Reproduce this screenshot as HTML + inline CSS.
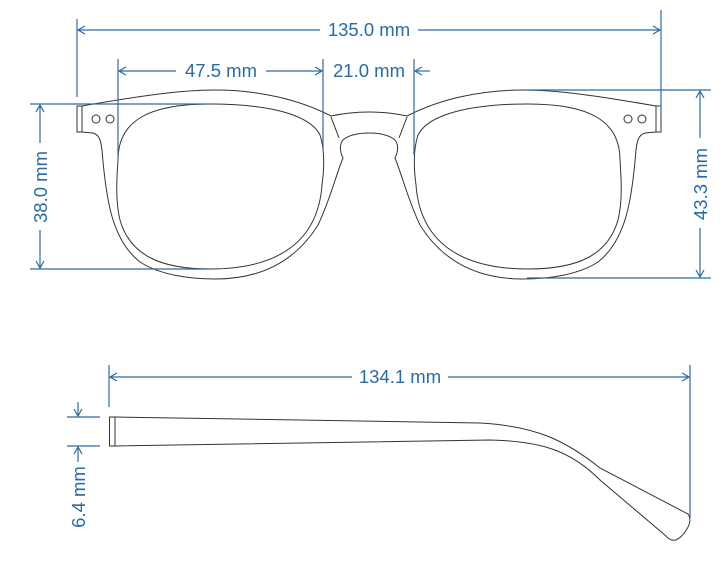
<!DOCTYPE html>
<html><head><style>body{margin:0;background:#fff}svg{display:block}</style></head><body>
<svg width="728" height="565" viewBox="0 0 728 565" xmlns="http://www.w3.org/2000/svg">
<defs>
<marker id="a" markerWidth="10" markerHeight="10" refX="9" refY="5" orient="auto" markerUnits="userSpaceOnUse"><path d="M2,1 L9,5 L2,9" fill="none" stroke="#2a6aa6" stroke-width="1.2"/></marker>
<g id="half" fill="none" stroke="#333" stroke-width="1">
<path d="M82,106 C140,96 180,90 215,90 C260,90 300,100 331,116 C345,113 360,112 369,112"/>
<path d="M82,132 L93,133 C100,135 101,142 102,150 C106,200 112,240 140,262 C160,275 190,279 215,279 C260,279 295,262 318,225 C330,200 336,175 343,158 C340,152 339,145 343,140 C350,134 362,133 369,133"/>
<path d="M331,117 L339,138"/>
<path d="M118,160 C118,120 150,104 210,104 C270,104 310,115 320,135 C325,150 324,170 322,185 C318,240 280,269 210,269 C160,269 130,255 120,220 C115,200 117,175 118,160 Z"/>
<circle cx="96" cy="119" r="4"/><circle cx="110" cy="119" r="4"/>
<rect x="77" y="106" width="5" height="26"/>
</g>
</defs>
<use href="#half"/>
<use href="#half" transform="translate(738,0) scale(-1,1)"/>
<g stroke="#2a6aa6" stroke-width="1.2" fill="none">
<line x1="77" y1="19" x2="77" y2="97"/><line x1="661" y1="10" x2="661" y2="116"/>
<line x1="320" y1="30" x2="78" y2="30" marker-end="url(#a)"/><line x1="418" y1="30" x2="660" y2="30" marker-end="url(#a)"/>
<line x1="118" y1="59" x2="118" y2="160"/><line x1="323" y1="59" x2="323" y2="150"/><line x1="414" y1="59" x2="414" y2="155"/>
<line x1="176" y1="71" x2="119" y2="71" marker-end="url(#a)"/><line x1="266" y1="71" x2="322" y2="71" marker-end="url(#a)"/>
<line x1="430" y1="71" x2="415" y2="71" marker-end="url(#a)"/>
<line x1="30" y1="104" x2="210" y2="104"/><line x1="30" y1="269" x2="210" y2="269"/>
<line x1="40" y1="143" x2="40" y2="105" marker-end="url(#a)"/><line x1="40" y1="230" x2="40" y2="268" marker-end="url(#a)"/>
<line x1="527" y1="90" x2="711" y2="90"/><line x1="527" y1="278" x2="711" y2="278"/>
<line x1="700" y1="138" x2="700" y2="91" marker-end="url(#a)"/><line x1="700" y1="228" x2="700" y2="277" marker-end="url(#a)"/>
<line x1="109" y1="365" x2="109" y2="407"/><line x1="690" y1="365" x2="690" y2="518"/>
<line x1="352" y1="377" x2="110" y2="377" marker-end="url(#a)"/><line x1="448" y1="377" x2="689" y2="377" marker-end="url(#a)"/>
<line x1="67" y1="417" x2="100" y2="417"/><line x1="67" y1="446" x2="100" y2="446"/>
<line x1="78" y1="402" x2="78" y2="416" marker-end="url(#a)"/><line x1="78" y1="462" x2="78" y2="447" marker-end="url(#a)"/>
</g>
<g fill="none" stroke="#333" stroke-width="1">
<rect x="109.5" y="417" width="5.5" height="29"/>
<path d="M115,417 L480,423 C535,426 565,440 600,468 L688,514 C694,522 684,536 676,540 C670,541 668,538 666,536 L600,480 C570,450 540,441 490,440 L115,446"/>
</g>
<g fill="#2a6aa6" font-family="Liberation Sans, sans-serif" font-size="18.5" text-anchor="middle">
<text x="369" y="36">135.0 mm</text>
<text x="221" y="77">47.5 mm</text>
<text x="369" y="77">21.0 mm</text>
<text x="400" y="383">134.1 mm</text>
<text transform="translate(47,187) rotate(-90)">38.0 mm</text>
<text transform="translate(707,184) rotate(-90)">43.3 mm</text>
<text transform="translate(85,497) rotate(-90)">6.4 mm</text>
</g>
</svg>
</body></html>
